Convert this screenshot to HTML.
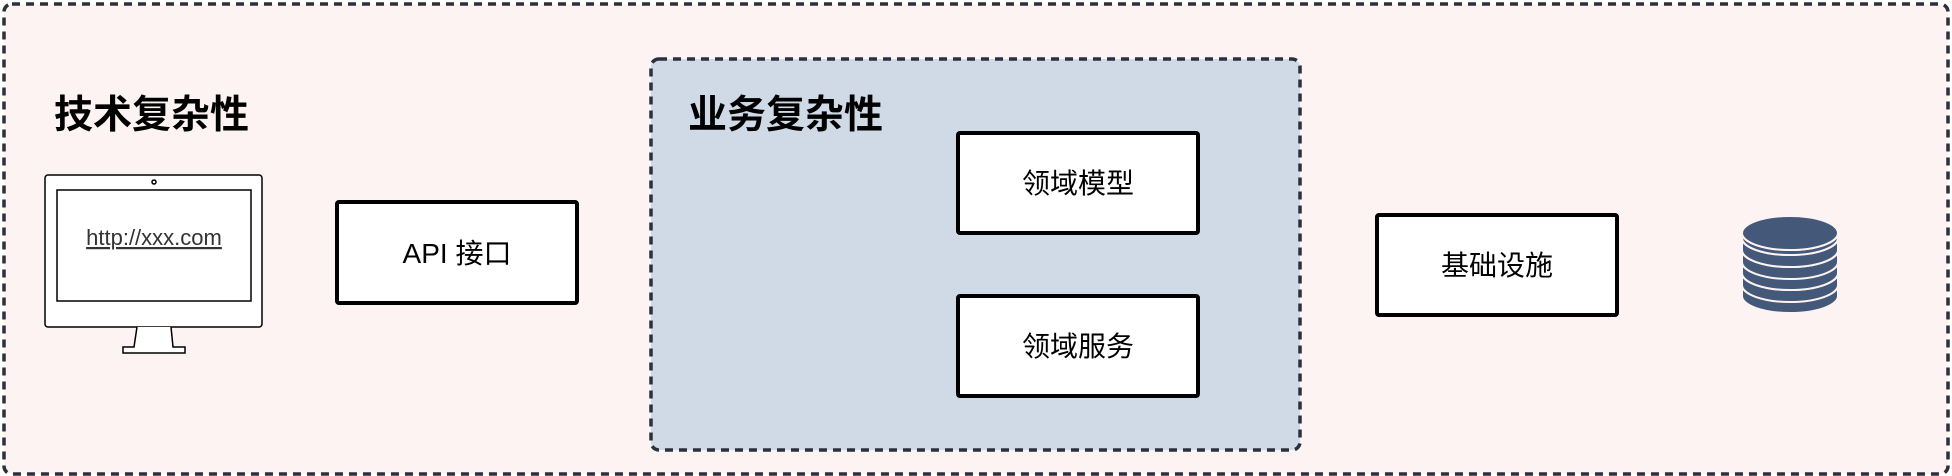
<!DOCTYPE html>
<html><head><meta charset="utf-8"><style>
html,body{margin:0;padding:0;background:#fff;}
svg{display:block}
text{font-family:"Liberation Sans","Noto Sans CJK SC",sans-serif;}
</style></head><body>
<svg width="1952" height="476" viewBox="0 0 1952 476" xmlns="http://www.w3.org/2000/svg">
<rect x="4" y="4" width="1944" height="470" rx="8" fill="#fcf3f2" stroke="#2a313c" stroke-width="3.5" stroke-dasharray="8 6"/>
<rect x="651" y="59" width="649" height="391" rx="8" fill="#cfdae6" stroke="#2a313c" stroke-width="3.5" stroke-dasharray="8 6"/>
<text x="54" y="128" font-size="39" font-weight="bold" fill="#000">技术复杂性</text>
<text x="688" y="128" font-size="39" font-weight="bold" fill="#000">业务复杂性</text>
<!-- monitor -->
<rect x="45" y="175" width="217" height="152" rx="3" fill="#fff" stroke="#000" stroke-width="1.5"/>
<rect x="57" y="190" width="194" height="111" fill="#fff" stroke="#000" stroke-width="1.5"/>
<circle cx="154" cy="182" r="2" fill="none" stroke="#000" stroke-width="1.5"/>
<path d="M137 327 L134 347 L123 347 L123 353 L185 353 L185 347 L173 347 L171 327" fill="#fff" stroke="#000" stroke-width="1.5"/>
<text x="154" y="245" font-size="22" fill="#333" text-anchor="middle" text-decoration="underline">http://xxx.com</text>
<!-- boxes -->
<rect x="337" y="202" width="240" height="101" rx="2" fill="#fff" stroke="#000" stroke-width="4"/>
<text x="457" y="263" font-size="28" text-anchor="middle" fill="#000">API 接口</text>
<rect x="958" y="133" width="240" height="100" rx="2" fill="#fff" stroke="#000" stroke-width="4"/>
<text x="1078" y="193" font-size="28" text-anchor="middle" fill="#000">领域模型</text>
<rect x="958" y="296" width="240" height="100" rx="2" fill="#fff" stroke="#000" stroke-width="4"/>
<text x="1078" y="356" font-size="28" text-anchor="middle" fill="#000">领域服务</text>
<rect x="1377" y="215" width="240" height="100" rx="2" fill="#fff" stroke="#000" stroke-width="4"/>
<text x="1497" y="275" font-size="28" text-anchor="middle" fill="#000">基础设施</text>
<!-- database -->
<g fill="#44587a" stroke="#fcf3f2" stroke-width="2">
<path d="M1742 296 a48 17 0 0 0 96 0 v-12 h-96 z"/>
<path d="M1742 285 a48 17 0 0 0 96 0 v-12 a48 17 0 0 1 -96 0 z"/>
<path d="M1742 273 a48 17 0 0 0 96 0 v-12 a48 17 0 0 1 -96 0 z"/>
<path d="M1742 262 a48 17 0 0 0 96 0 v-12 a48 17 0 0 1 -96 0 z"/>
<path d="M1742 250 a48 17 0 0 0 96 0 v-12 a48 17 0 0 1 -96 0 z"/>
<path d="M1742 238 a48 17 0 0 0 96 0 v-5 a48 17 0 0 1 -96 0 z"/>
<ellipse cx="1790" cy="233" rx="48" ry="17"/>
</g>
</svg>
</body></html>
